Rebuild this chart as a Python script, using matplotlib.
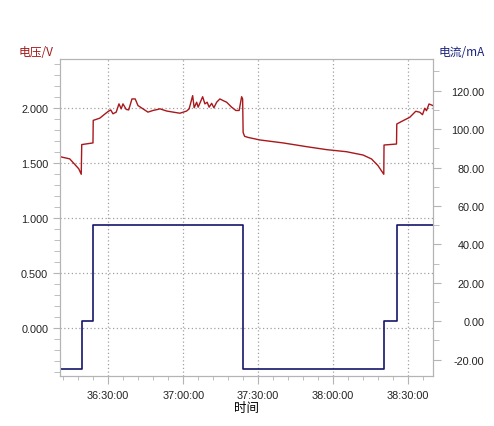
import numpy as np
import matplotlib
matplotlib.use("Agg")
import matplotlib.pyplot as plt
from matplotlib.ticker import MultipleLocator, FuncFormatter

plt.rcParams['font.family'] = ['Liberation Sans', 'Noto Sans CJK SC', 'DejaVu Sans']

# time in minutes after 36:00:00
v_time = [10.7, 14.6, 16.6, 18.2, 19.2, 19.4, 23.9, 24.0, 26.6, 29.9, 31.0, 31.9, 33.2,
          34.3, 35.2, 35.9, 37.2, 38.2, 39.5, 40.8, 41.9, 43.9, 45.9, 47.9, 49.9, 50.7,
          53.4, 56.0, 58.7, 61.4, 62.4, 63.8, 64.4, 65.4, 66.0, 67.8, 68.7, 69.6, 70.4,
          71.4, 72.3, 73.4, 74.7, 76.0, 77.4, 79.4, 81.1, 82.4, 83.4, 83.8, 84.0, 84.6,
          86.0, 90.7, 100.0, 109.4, 117.4, 125.4, 132.0, 135.4, 138.0, 140.3, 140.4,
          145.4, 145.5, 148.0, 150.7, 153.1, 154.7, 155.8, 156.7, 157.4, 158.4, 159.4, 160.0]
voltage = [1.56, 1.54, 1.49, 1.45, 1.40, 1.67, 1.685, 1.89, 1.91, 1.97, 1.985, 1.95, 1.965,
           2.04, 1.995, 2.04, 1.99, 1.985, 2.085, 2.085, 2.025, 1.995, 1.965, 1.98, 1.99, 1.995,
           1.975, 1.965, 1.955, 1.975, 1.995, 2.115, 2.005, 2.055, 2.01, 2.105, 2.04, 2.055, 2.01,
           2.045, 2.005, 2.055, 2.085, 2.07, 2.055, 2.01, 1.98, 1.98, 2.105, 2.085, 1.78, 1.745,
           1.735, 1.712, 1.685, 1.651, 1.624, 1.605, 1.575, 1.539, 1.478, 1.40, 1.666,
           1.675, 1.857, 1.887, 1.918, 1.973, 1.964, 1.942, 2.0, 1.978, 2.039, 2.03, 2.024]

i_time = [10.7, 19.4, 24.0, 84.0, 140.4, 145.5, 160.0]
current = [-25, 0, 50, -25, 0, 50, 50]

red = '#a8181c'
navy = '#15156a'

fig = plt.figure(figsize=(4.94, 4.27), dpi=100)
ax = fig.add_axes([60/494, 1-377/427, 373/494, 317/427])
ax2 = ax.twinx()

ax.plot(v_time, voltage, color=red, lw=1.0, zorder=3)
ax2.plot(i_time, current, color=navy, lw=1.2, drawstyle='steps-post')

ax.set_xlim(10.7, 160)
ax.set_ylim(-0.434, 2.448)
ax2.set_ylim(-28.5, 136.5)

ax.yaxis.set_major_locator(MultipleLocator(0.5))
ax.yaxis.set_minor_locator(MultipleLocator(0.1))
ax.yaxis.set_major_formatter(FuncFormatter(lambda v, p: f"{v:.3f}"))
ax2.yaxis.set_major_locator(MultipleLocator(20))
ax2.yaxis.set_minor_locator(MultipleLocator(10))
ax2.yaxis.set_major_formatter(FuncFormatter(lambda v, p: f"{v:.2f}"))

def fmt_time(m, pos):
    m = int(round(m))
    return f"{36 + m // 60}:{m % 60:02d}:00"

ax.xaxis.set_major_locator(MultipleLocator(30))
ax.xaxis.set_minor_locator(MultipleLocator(6))
ax.xaxis.set_major_formatter(FuncFormatter(fmt_time))

ax.grid(True, which='major', color='#a0a0a0', linestyle=(0, (1, 2)), lw=0.9)

spine_c = '#b4b4b4'
for a in (ax, ax2):
    for s in a.spines.values():
        s.set_color(spine_c)
ax.tick_params(axis='both', which='both', color=spine_c, labelsize=7.8, labelcolor='#222222')
ax.tick_params(axis='y', which='major', length=5)
ax.tick_params(axis='y', which='minor', length=4)
ax.tick_params(axis='x', which='major', length=6, pad=4)
ax.tick_params(axis='x', which='minor', length=3)
ax2.tick_params(axis='y', which='both', color=spine_c, labelsize=7.8, labelcolor='#222222')
ax2.tick_params(axis='y', which='major', length=6, pad=31)
ax2.tick_params(axis='y', which='minor', length=4)
for lbl in ax2.get_yticklabels():
    lbl.set_horizontalalignment('right')

fig.text(19/494, 1-52/427, '电压/V', color='#a01818', fontsize=8.5,
         family=['Noto Sans CJK SC', 'DejaVu Sans'], va='center', ha='left')
fig.text(439/494, 1-53/427, '电流/mA', color='#1a237e', fontsize=8.5,
         family=['Noto Sans CJK SC', 'DejaVu Sans'], va='center', ha='left')
fig.text(246/494, 1-409/427, '时间', color='black', fontsize=9,
         family=['Noto Sans CJK SC', 'DejaVu Sans'], va='center', ha='center')

fig.savefig('out.png', dpi=100)
